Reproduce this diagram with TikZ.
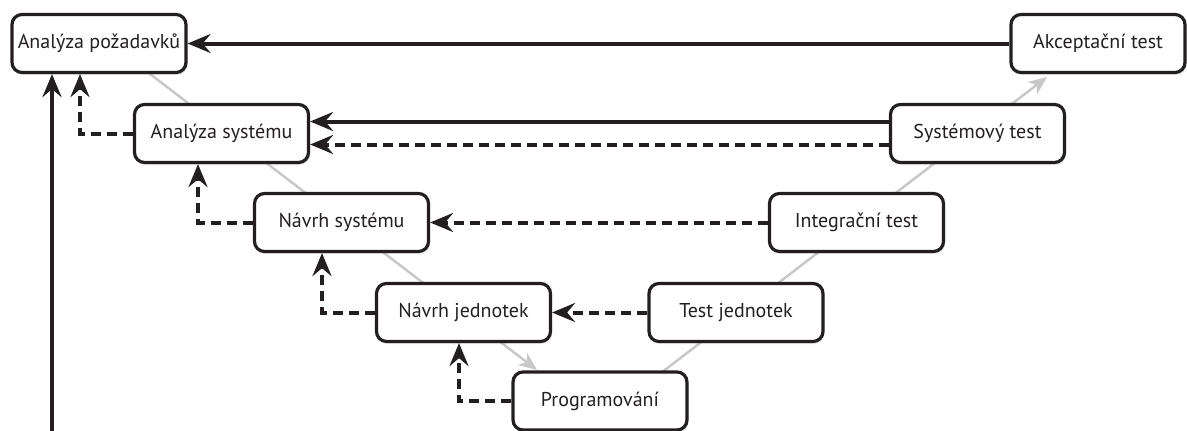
\documentclass[tikz,border=0pt]{standalone}
\usepackage{fontspec}
\setmainfont{PT Sans}
\usetikzlibrary{arrows.meta,shadows,calc}
\definecolor{ink}{HTML}{231F20}
\definecolor{vline}{HTML}{C8C8C8}
\begin{document}
\begin{tikzpicture}[x=1pt,y=-1pt,
  phase/.style={draw=ink, line width=3.2pt, rounded corners=10pt, fill=white,
    minimum width=174pt, minimum height=58pt, inner sep=0pt,
    font=\fontsize{20pt}{23pt}\selectfont, text=ink,
    drop shadow={opacity=0.18, shadow xshift=1.5pt, shadow yshift=-2.5pt}},
  solidarrow/.style={draw=ink, line width=4pt, -{Stealth[length=23pt,width=19pt,inset=8pt]}},
  dasharrow/.style={solidarrow, dash pattern=on 10pt off 6pt},
  flow/.style={draw=vline, line width=2.5pt, -{Stealth[length=18pt,width=15pt,inset=5pt]}}]
\useasboundingbox (0,0) rectangle (1187,431);

% V-model flow lines behind the boxes
\coordinate (vl0) at (120,51);
\coordinate (vl1) at (537,370);
\coordinate (vr0) at (640,389);
\coordinate (vr1) at (1047,77);
\draw[flow] (vl0) -- (vl1);
\draw[flow] (vr0) -- (vr1);

% phases
\node[phase] (req)   at (99,43.5)    {Analýza požadavků};
\node[phase] (acc)   at (1098,43.5)  {Akceptační test};
\node[phase] (sys)   at (221.5,133.5){Analýza systému};
\node[phase] (stest) at (977.5,133.5){Systémový test};
\node[phase] (des)   at (341.5,222.5){Návrh systému};
\node[phase] (itest) at (856.5,222.5){Integrační test};
\node[phase] (unit)  at (463.5,312.5){Návrh jednotek};
\node[phase] (utest) at (736,312.5)  {Test jednotek};
\node[phase] (prog)  at (600,401)    {Programování};

% verification links
\draw[solidarrow] (acc) -- (req);
\draw[solidarrow] ($(stest.west)+(0,-12)$) -- ($(sys.east)+(0,-12)$);
\draw[dasharrow]  ($(stest.west)+(0,11)$) -- ($(sys.east)+(0,11)$);
\draw[dasharrow] (itest) -- (des);
\draw[dasharrow] (utest) -- (unit);

% feedback to the previous phase
\draw[dasharrow] (sys.west) -| ([xshift=-19pt]req.south);
\draw[dasharrow] (des.west) -| ([xshift=-23.5pt]sys.south);
\draw[dasharrow] (unit.west) -| ([xshift=-19.5pt]des.south);
\draw[dasharrow] (prog.west) -| ([xshift=-4.5pt]unit.south);

% incoming solid line from below
\coordinate (feed) at (52,434);
\draw[solidarrow] (feed) -- (feed |- req.south);
\end{tikzpicture}
\end{document}
